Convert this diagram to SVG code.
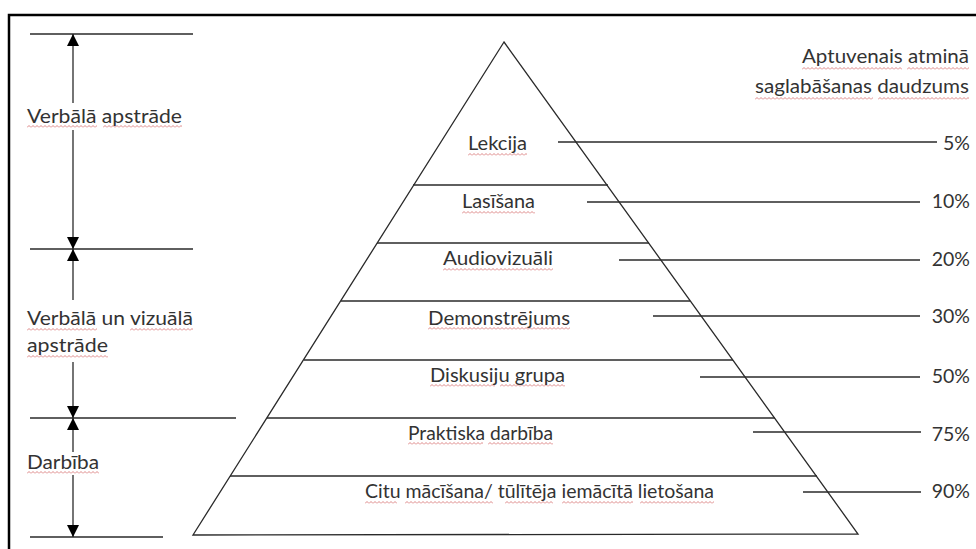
<svg xmlns="http://www.w3.org/2000/svg" width="976" height="549" viewBox="0 0 976 549">
<style>
  .ln { stroke: #2a2a2a; stroke-width: 1.3; fill: none; }
  .fr { stroke: #000; stroke-width: 2.5; fill: none; }
  .t { font-family: Lato, "Liberation Sans", sans-serif; font-size: 19.5px; fill: #333; }
  .e { text-anchor: end; }
  .sq { fill: url(#wv); }
</style>
<defs>
  <marker id="ah" viewBox="0 0 12 12" refX="12" refY="6" markerWidth="12" markerHeight="12" markerUnits="userSpaceOnUse" orient="auto">
    <path d="M0,0 L12,6 L0,12 Z" fill="#000"/>
  </marker>
  <pattern id="wv" patternUnits="userSpaceOnUse" x="0" y="0" width="4" height="3">
    <path d="M0,2.5 L2,0.5 L4,2.5" fill="none" stroke="#d46a6a" stroke-width="0.8"/>
  </pattern>
</defs>
<rect width="976" height="549" fill="#fff"/>
<path class="fr" d="M9,549 V15 H976"/>

<g id="connectors">
  <line class="ln" x1="30" y1="34" x2="193" y2="34"/>
  <line class="ln" x1="30" y1="249" x2="193" y2="249"/>
  <line class="ln" x1="30" y1="418" x2="236" y2="418"/>
  <line class="ln" x1="30" y1="537" x2="163" y2="537"/>
  <line class="ln" x1="73" y1="103" x2="73" y2="34" marker-end="url(#ah)"/>
  <line class="ln" x1="73" y1="130" x2="73" y2="249" marker-end="url(#ah)"/>
  <line class="ln" x1="73" y1="300" x2="73" y2="249" marker-end="url(#ah)"/>
  <line class="ln" x1="73" y1="362" x2="73" y2="418" marker-end="url(#ah)"/>
  <line class="ln" x1="73" y1="452" x2="73" y2="418" marker-end="url(#ah)"/>
  <line class="ln" x1="73" y1="475" x2="73" y2="537" marker-end="url(#ah)"/>
  <line class="ln" x1="558" y1="142" x2="937" y2="142"/>
  <line class="ln" x1="587" y1="202" x2="920" y2="202"/>
  <line class="ln" x1="619" y1="260" x2="920" y2="260"/>
  <line class="ln" x1="653" y1="316" x2="920" y2="316"/>
  <line class="ln" x1="700" y1="377" x2="920" y2="377"/>
  <line class="ln" x1="753" y1="432" x2="921" y2="432"/>
  <line class="ln" x1="803" y1="492" x2="921" y2="492"/>
</g>

<g id="pyramid">
  <path class="ln" d="M504,42 L193,535 L858,534 Z"/>
  <line class="ln" x1="413" y1="185" x2="608" y2="185"/>
  <line class="ln" x1="377" y1="243" x2="649" y2="243"/>
  <line class="ln" x1="341" y1="301" x2="690" y2="301"/>
  <line class="ln" x1="304" y1="360" x2="733" y2="360"/>
  <line class="ln" x1="267" y1="418" x2="775" y2="418"/>
  <line class="ln" x1="230" y1="476" x2="817" y2="476"/>
</g>

<g id="spellcheck">
  <rect class="sq" transform="translate(27,125)" width="70" height="3"/>
  <rect class="sq" transform="translate(103,125)" width="79" height="3"/>
  <rect class="sq" transform="translate(27,328)" width="70" height="3"/>
  <rect class="sq" transform="translate(130,328)" width="63" height="3"/>
  <rect class="sq" transform="translate(27,355)" width="81" height="3"/>
  <rect class="sq" transform="translate(27,471)" width="72" height="3"/>
  <rect class="sq" transform="translate(802,67)" width="100" height="3"/>
  <rect class="sq" transform="translate(907,67)" width="62" height="3"/>
  <rect class="sq" transform="translate(755,97)" width="118" height="3"/>
  <rect class="sq" transform="translate(878,97)" width="91" height="3"/>
  <rect class="sq" transform="translate(468,153)" width="59" height="3"/>
  <rect class="sq" transform="translate(462,211)" width="73" height="3"/>
  <rect class="sq" transform="translate(443,268)" width="110" height="3"/>
  <rect class="sq" transform="translate(428,327)" width="142" height="3"/>
  <rect class="sq" transform="translate(430,384)" width="65" height="3"/>
  <rect class="sq" transform="translate(500,384)" width="65" height="3"/>
  <rect class="sq" transform="translate(408,442)" width="75" height="3"/>
  <rect class="sq" transform="translate(488,442)" width="65" height="3"/>
  <rect class="sq" transform="translate(365,501)" width="32" height="3"/>
  <rect class="sq" transform="translate(405,501)" width="88" height="3"/>
  <rect class="sq" transform="translate(505,501)" width="48" height="3"/>
  <rect class="sq" transform="translate(562,501)" width="71" height="3"/>
  <rect class="sq" transform="translate(640,501)" width="74" height="3"/>
</g>

<g id="node-verbala"><text class="t" x="27" y="123" textLength="155" lengthAdjust="spacingAndGlyphs">Verbālā apstrāde</text></g>
<g id="node-verbala-vizuala"><text class="t" x="27" y="325" textLength="166" lengthAdjust="spacingAndGlyphs">Verbālā un vizuālā</text><text class="t" x="27" y="352" textLength="81" lengthAdjust="spacingAndGlyphs">apstrāde</text></g>
<g id="node-darbiba"><text class="t" x="27" y="469" textLength="72" lengthAdjust="spacingAndGlyphs">Darbība</text></g>
<g id="node-header"><text class="t" x="802" y="63" textLength="167" lengthAdjust="spacingAndGlyphs">Aptuvenais atminā</text><text class="t" x="755" y="93" textLength="214" lengthAdjust="spacingAndGlyphs">saglabāšanas daudzums</text></g>

<g id="node-lekcija"><text class="t" x="468" y="150" textLength="59" lengthAdjust="spacingAndGlyphs">Lekcija</text></g>
<g id="node-lasisana"><text class="t" x="462" y="208" textLength="73" lengthAdjust="spacingAndGlyphs">Lasīšana</text></g>
<g id="node-audio"><text class="t" x="443" y="265" textLength="110" lengthAdjust="spacingAndGlyphs">Audiovizuāli</text></g>
<g id="node-demo"><text class="t" x="428" y="325" textLength="142" lengthAdjust="spacingAndGlyphs">Demonstrējums</text></g>
<g id="node-disk"><text class="t" x="430" y="382" textLength="135" lengthAdjust="spacingAndGlyphs">Diskusiju grupa</text></g>
<g id="node-prakt"><text class="t" x="408" y="440" textLength="145" lengthAdjust="spacingAndGlyphs">Praktiska darbība</text></g>
<g id="node-citu"><text class="t" x="365" y="498" textLength="349" lengthAdjust="spacingAndGlyphs">Citu mācīšana/ tūlītēja iemācītā lietošana</text></g>

<g id="pct">
  <text class="t e" x="970" y="150">5%</text>
  <text class="t e" x="970" y="208">10%</text>
  <text class="t e" x="970" y="266">20%</text>
  <text class="t e" x="970" y="323">30%</text>
  <text class="t e" x="970" y="383">50%</text>
  <text class="t e" x="970" y="441">75%</text>
  <text class="t e" x="970" y="498">90%</text>
</g>
</svg>
